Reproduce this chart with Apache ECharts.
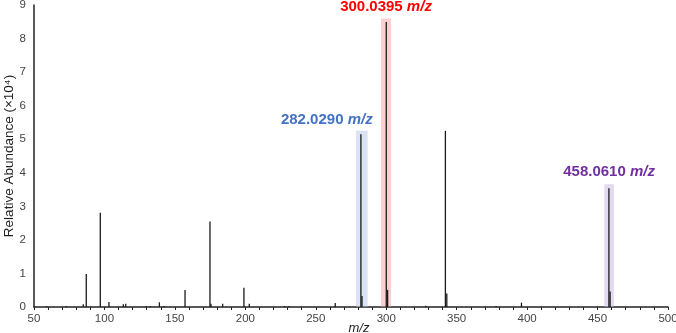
<!DOCTYPE html>
<html>
<head>
<meta charset="utf-8">
<script src="https://cdn.jsdelivr.net/npm/echarts@6/dist/echarts.min.js"></script>
<style>
  html, body { margin: 0; padding: 0; background: #fff; }
  #main { width: 676px; height: 333px; }
</style>
</head>
<body>
<div id="main"></div>
<script>
// peaks (m/z, abundance x10^4)
const mzValues = [59, 73, 85, 87.1, 97.05, 103.2, 113.4, 115.1, 129.5, 132.5, 139, 142.3, 157.2, 174.9, 175.6, 183.9,
  199, 202.8, 228, 231, 263.8, 282.029, 282.8, 300.0395, 301, 328, 342, 343, 378, 396, 458.061, 458.9];
const abundance = [0.03, 0.03, 0.08, 0.98, 2.81, 0.15, 0.08, 0.1, 0.03, 0.03, 0.14, 0.03, 0.51, 2.55, 0.1, 0.1,
  0.57, 0.1, 0.03, 0.03, 0.12, 5.15, 0.33, 8.49, 0.51, 0.04, 5.25, 0.4, 0.03, 0.13, 3.54, 0.46];

// highlighted ions: [from, to, top, label, colour, fill]
const highlights = [
  [278.5, 286.8, 5.25, '282.0290', '#4472c4', 'rgba(180,199,231,0.5)'],
  [296.3, 303.4, 8.6, '300.0395', '#ff0000', 'rgba(244,150,150,0.45)'],
  [454.8, 461.6, 3.66, '458.0610', '#7030a0', 'rgba(200,180,225,0.5)']
];
const labelOffsets = [[-35, -1], [0, -2], [0, -3]];

var chart = echarts.init(document.getElementById('main'));

const areas = highlights.map(function (h, i) {
  return [
    {
      xAxis: h[0], yAxis: 0,
      itemStyle: { color: h[5] },
      label: {
        show: true,
        position: 'top',
        distance: 2,
        offset: labelOffsets[i],
        formatter: '{b|' + h[3] + ' }{i|m/z}',
        rich: {
          b: { fontSize: 15, fontWeight: 'bold', color: h[4], fontFamily: 'Liberation Sans' },
          i: { fontSize: 15, fontWeight: 'bold', fontStyle: 'italic', color: h[4], fontFamily: 'Liberation Sans' }
        }
      }
    },
    { xAxis: h[1], yAxis: h[2] }
  ];
});

var option = {
  animation: false,
  grid: { left: 34, right: 8, top: 5, bottom: 26, outerBoundsMode: 'none', containLabel: false },
  xAxis: {
    type: 'value',
    min: 50,
    max: 500,
    interval: 50,
    name: 'm/z',
    nameLocation: 'middle',
    nameGap: 15,
    nameMoveOverlap: false,
    nameTextStyle: { fontStyle: 'italic', fontSize: 13, color: '#222', fontFamily: 'Liberation Sans', padding: [0, 0, 0, 16] },
    axisLine: { lineStyle: { color: '#222', width: 1.5 } },
    axisTick: { length: 3, inside: false, lineStyle: { color: '#222' } },
    minorTick: { show: true, splitNumber: 5, length: 3, lineStyle: { color: '#222' } },
    axisLabel: { fontSize: 11.5, color: '#444', fontFamily: 'Liberation Sans', margin: 6 },
    splitLine: { show: false }
  },
  yAxis: {
    type: 'value',
    min: 0,
    max: 9,
    interval: 1,
    name: 'Relative Abundance (×10⁴)',
    nameLocation: 'middle',
    nameGap: 18,
    nameMoveOverlap: false,
    nameTextStyle: { fontSize: 13.5, color: '#222', fontFamily: 'Liberation Sans' },
    axisLine: { show: true, lineStyle: { color: '#222', width: 1.5 } },
    axisTick: { show: false },
    axisLabel: { fontSize: 11.5, color: '#444', fontFamily: 'Liberation Sans', margin: 8 },
    splitLine: { show: false }
  },
  series: [
    {
      type: 'bar',
      barWidth: 1.3,
      itemStyle: { color: '#1a1a1a' },
      data: mzValues.map(function (mz, i) { return [mz, abundance[i]]; }),
      z: 3,
      markArea: {
        silent: true,
        z: 1,
        data: areas
      }
    }
  ]
};

option && chart.setOption(option);
</script>
</body>
</html>
